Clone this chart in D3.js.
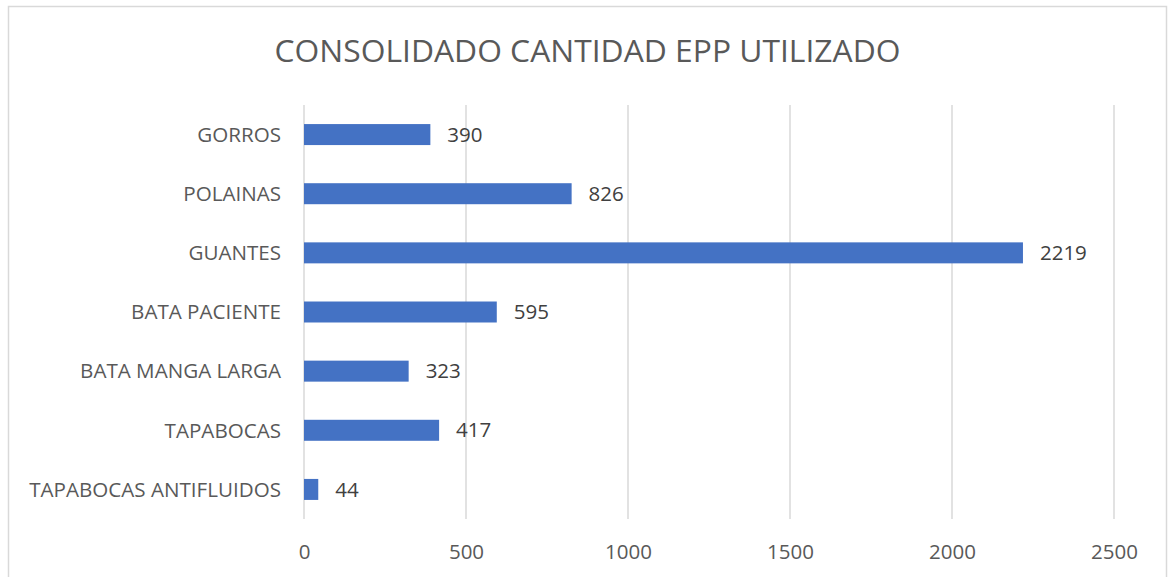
<!DOCTYPE html>
<html>
<head>
<meta charset="utf-8">
<script src="https://cdn.jsdelivr.net/npm/d3@7"></script>
<style>
  html, body { margin: 0; padding: 0; background: #fff; }
  svg { display: block; }
  text { font-family: "Open Sans", "Noto Sans", sans-serif; }
</style>
</head>
<body>
<svg id="chart" width="1170" height="577"></svg>
<script>
const title = "CONSOLIDADO CANTIDAD EPP UTILIZADO";
const categories = ["GORROS", "POLAINAS", "GUANTES", "BATA PACIENTE", "BATA MANGA LARGA", "TAPABOCAS", "TAPABOCAS ANTIFLUIDOS"];
const values = [390, 826, 2219, 595, 323, 417, 44];
const tickValues = [0, 500, 1000, 1500, 2000, 2500];

const svg = d3.select("#chart");

// chart frame
svg.append("rect")
  .attr("x", 8.5).attr("y", 6.5)
  .attr("width", 1158).attr("height", 600)
  .attr("fill", "#fff").attr("stroke", "#d9d9d9").attr("stroke-width", 1.5);

// title
svg.append("text")
  .attr("x", 587.5).attr("y", 62)
  .attr("text-anchor", "middle")
  .attr("fill", "#595959")
  .style("font-size", "31.8px")
  .text(title);

const plot = { left: 304, right: 1114, top: 105, bottom: 519 };

const x = d3.scaleLinear().domain([0, 2500]).range([plot.left, plot.right]);
const y = d3.scaleBand().domain(categories).range([plot.top, plot.bottom]).paddingInner(0.645).paddingOuter(0.3225);

// gridlines
svg.append("g").selectAll("line")
  .data(tickValues).join("line")
  .attr("x1", d => x(d)).attr("x2", d => x(d))
  .attr("y1", plot.top).attr("y2", plot.bottom)
  .attr("stroke", "#d9d9d9").attr("stroke-width", 1.5);

// x axis labels
const xAxis = d3.axisBottom(x).tickValues(tickValues).tickSize(0).tickPadding(0).tickFormat(d3.format("d"));
const gx = svg.append("g").attr("transform", `translate(0, 559)`).call(xAxis);
gx.select(".domain").remove();
gx.selectAll("text")
  .attr("dy", 0).attr("y", 0)
  .attr("fill", "#595959")
  .style("font-size", "20.5px")
  .style("font-family", "'Open Sans', sans-serif");

// y axis labels
const yAxis = d3.axisLeft(y).tickSize(0).tickPadding(0);
const gy = svg.append("g").attr("transform", `translate(281, 0)`).call(yAxis);
gy.select(".domain").remove();
gy.selectAll("text")
  .attr("x", 0)
  .attr("dy", "0.35em")
  .attr("fill", "#595959")
  .style("font-size", "20.6px")
  .style("font-family", "'Open Sans', sans-serif");

// bars
svg.append("g").selectAll("rect")
  .data(categories).join("rect")
  .attr("x", x(0))
  .attr("y", d => y(d))
  .attr("width", (d, i) => x(values[i]) - x(0))
  .attr("height", y.bandwidth())
  .attr("fill", "#4472c4");

// value labels
svg.append("g").selectAll("text")
  .data(categories).join("text")
  .attr("x", (d, i) => x(values[i]) + 17)
  .attr("y", d => y(d) + y.bandwidth() / 2)
  .attr("dy", "0.35em")
  .attr("fill", "#404040")
  .style("font-size", "20.5px")
  .text((d, i) => values[i]);
</script>
</body>
</html>
